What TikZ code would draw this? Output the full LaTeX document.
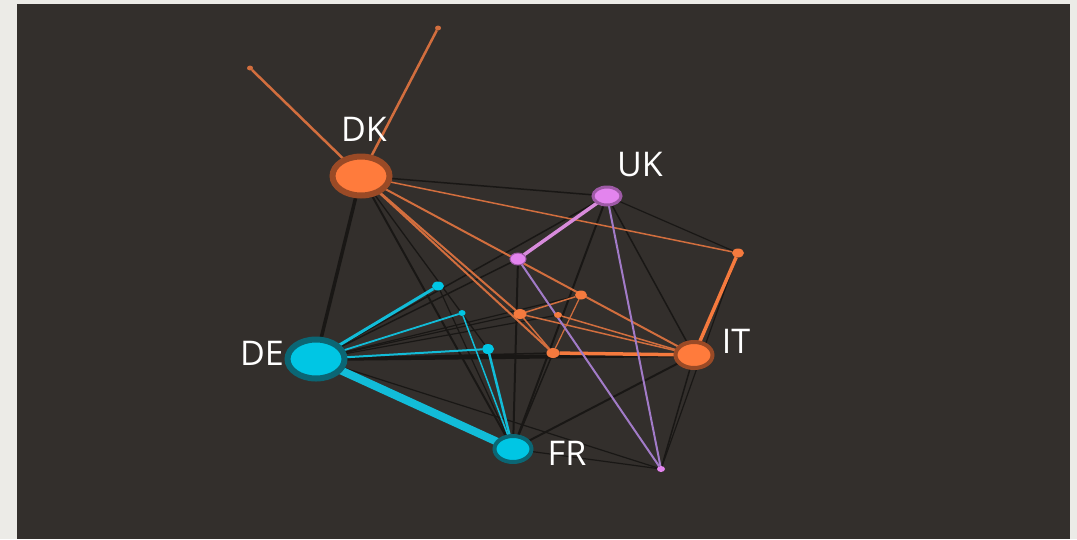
\documentclass[tikz,border=0pt]{standalone}
\usepackage{fontspec}
\setmainfont{Open Sans}
\usetikzlibrary{shapes.geometric}

\definecolor{page}{HTML}{ECEBE7}
\definecolor{panel}{HTML}{332F2C}
\definecolor{darklink}{HTML}{191715}
\definecolor{orangefill}{HTML}{FF7B3C}
\definecolor{orangering}{HTML}{9A4A26}
\definecolor{orangeline}{HTML}{D26E3E}
\definecolor{orangebold}{HTML}{F57A3E}
\definecolor{cyanfill}{HTML}{00C6E4}
\definecolor{cyanring}{HTML}{0B6674}
\definecolor{cyanline}{HTML}{12BCD8}
\definecolor{violetfill}{HTML}{E384EE}
\definecolor{violetring}{HTML}{9E5AA6}
\definecolor{violetline}{HTML}{A27BC8}
\definecolor{violetbold}{HTML}{D88BDC}

\pgfdeclarelayer{back}
\pgfdeclarelayer{links}
\pgfsetlayers{back,links,main}

\begin{document}
\begin{tikzpicture}[x=1pt,y=-1pt,
  hub/.style={ellipse, inner sep=0pt, outer sep=0pt},
  bighub/.style={hub, minimum width=57pt, minimum height=39pt, line width=6pt},
  midhub/.style={hub, minimum width=37pt, minimum height=26pt, line width=4pt},
  dot/.style={hub, minimum width=#1},
  orangehub/.style={fill=orangefill, draw=orangering},
  cyanhub/.style={fill=cyanfill, draw=cyanring},
  violethub/.style={fill=violetfill, draw=violetring},
  country/.style={text=white, inner sep=0pt, font=\fontsize{34}{34}\selectfont},
  linkdark/.style={draw=darklink, line width=#1}, linkdark/.default=1.5pt,
  linkorange/.style={draw=orangeline, line width=#1}, linkorange/.default=1.8pt,
  linkcyan/.style={draw=cyanline, line width=#1}, linkcyan/.default=2pt,
  linkviolet/.style={draw=violetline, line width=#1}, linkviolet/.default=2pt
]
\useasboundingbox (0,0) rectangle (1077,539);

\begin{pgfonlayer}{back}
  \fill[page] (0,0) rectangle (1077,539);
  \fill[panel] (17,4) rectangle (1070,539);
\end{pgfonlayer}

% country hubs
\node[bighub, orangehub] (DK) at (361,176) {};
\node[bighub, cyanhub] (DE) at (316,359) {};
\node[midhub, orangehub] (IT) at (694,355) {};
\node[midhub, cyanhub] (FR) at (513,449) {};
\node[hub, violethub, minimum width=28pt, minimum height=18pt, line width=3pt] (UK) at (607,196) {};

% smaller hubs
\node[dot=6pt, minimum height=5pt, fill=orangeline] (a1) at (250,68) {};
\node[dot=6pt, minimum height=5pt, fill=orangeline] (a2) at (438,28) {};
\node[dot=12pt, minimum height=9pt, fill=orangebold] (o1) at (738,253) {};
\node[dot=12pt, minimum height=9pt, fill=orangebold] (o2) at (581,295) {};
\node[dot=13pt, minimum height=10pt, fill=orangebold] (o3) at (520,314) {};
\node[dot=8pt, minimum height=6pt, fill=orangebold] (o4) at (558,315) {};
\node[dot=13pt, minimum height=10pt, fill=orangebold] (o5) at (553,353) {};
\node[dot=16pt, minimum height=12pt, fill=violetfill, draw=violetring, line width=1pt] (v1) at (518,259) {};
\node[dot=8pt, minimum height=6pt, fill=violetfill] (v2) at (661,469) {};
\node[dot=12pt, minimum height=9pt, fill=cyanfill] (c1) at (438,286) {};
\node[dot=7pt, minimum height=6pt, fill=cyanfill] (c2) at (462,313) {};
\node[dot=12pt, minimum height=10pt, fill=cyanfill] (c3) at (488,349) {};

% labels
\node[country] (tDK) at (364,129) {DK};
\node[country] (tUK) at (640,165) {UK};
\node[country] (tIT) at (736,341) {IT};
\node[country] (tDE) at (262,353) {DE};
\node[country] (tFR) at (567,453) {FR};

\begin{pgfonlayer}{links}
  % dark ties
  \draw[linkdark=3.5pt] (DK) -- (DE);
  \draw[linkdark] (DK) -- (UK);
  \draw[linkdark=2pt] (DK) -- (FR);
  \draw[linkdark=1.3pt] (DK) -- (c3);
  \draw[linkdark=4pt] (DE) -- (IT);
  \draw[linkdark] (DE) -- (UK);
  \draw[linkdark] (DE) -- (v1);
  \draw[linkdark=1.2pt] (DE) -- (o2);
  \draw[linkdark=1.2pt] (DE) -- (o3);
  \draw[linkdark=1.2pt] (DE) -- (o4);
  \draw[linkdark] (DE) -- (o5);
  \draw[linkdark=1.2pt] (DE) -- (v2);
  \draw[linkdark=2pt] (FR) -- (v1);
  \draw[linkdark=2pt] (FR) -- (UK);
  \draw[linkdark] (FR) -- (o5);
  \draw[linkdark=2pt] (FR) -- (IT);
  \draw[linkdark=1.2pt] (FR) -- (v2);
  \draw[linkdark=1.2pt] (FR) -- (c1);
  \draw[linkdark] (UK) -- (IT);
  \draw[linkdark=1.2pt] (UK) -- (o1);
  \draw[linkdark] (IT) -- (v2);
  \draw[linkdark=1.2pt] (o1) -- (v2);

  % orange ties
  \draw[linkorange=2.5pt] (DK) -- (a1);
  \draw[linkorange=2.5pt] (DK) -- (a2);
  \draw[linkorange=1.5pt] (DK) -- (o1);
  \draw[linkorange=2pt] (DK) -- (IT);
  \draw[linkorange=2pt] (DK) -- (o3);
  \draw[linkorange=2pt] (DK) -- (o5);
  \draw[linkorange=1.5pt] (o3) -- (o2);
  \draw[linkorange=1.5pt] (o3) -- (o5);
  \draw[linkorange=1.2pt] (o2) -- (o5);
  \draw[linkorange=1.5pt] (o3) -- (IT);
  \draw[linkorange=1.5pt] (o4) -- (IT);
  \draw[draw=orangebold, line width=3.5pt] (o5) -- (IT);
  \draw[draw=orangebold, line width=3.5pt] (IT) -- (o1);

  % violet ties
  \draw[draw=violetbold, line width=3.5pt] (UK) -- (v1);
  \draw[linkviolet] (UK) -- (v2);
  \draw[linkviolet] (v1) -- (v2);

  % cyan ties
  \draw[linkcyan=8pt] (DE) -- (FR);
  \draw[linkcyan=3pt] (DE) -- (c1);
  \draw[linkcyan=1.8pt] (DE) -- (c2);
  \draw[linkcyan=2pt] (DE) -- (c3);
  \draw[linkcyan=1.5pt] (c2) -- (FR);
  \draw[linkcyan=2.5pt] (c3) -- (FR);
\end{pgfonlayer}
\end{tikzpicture}
\end{document}
